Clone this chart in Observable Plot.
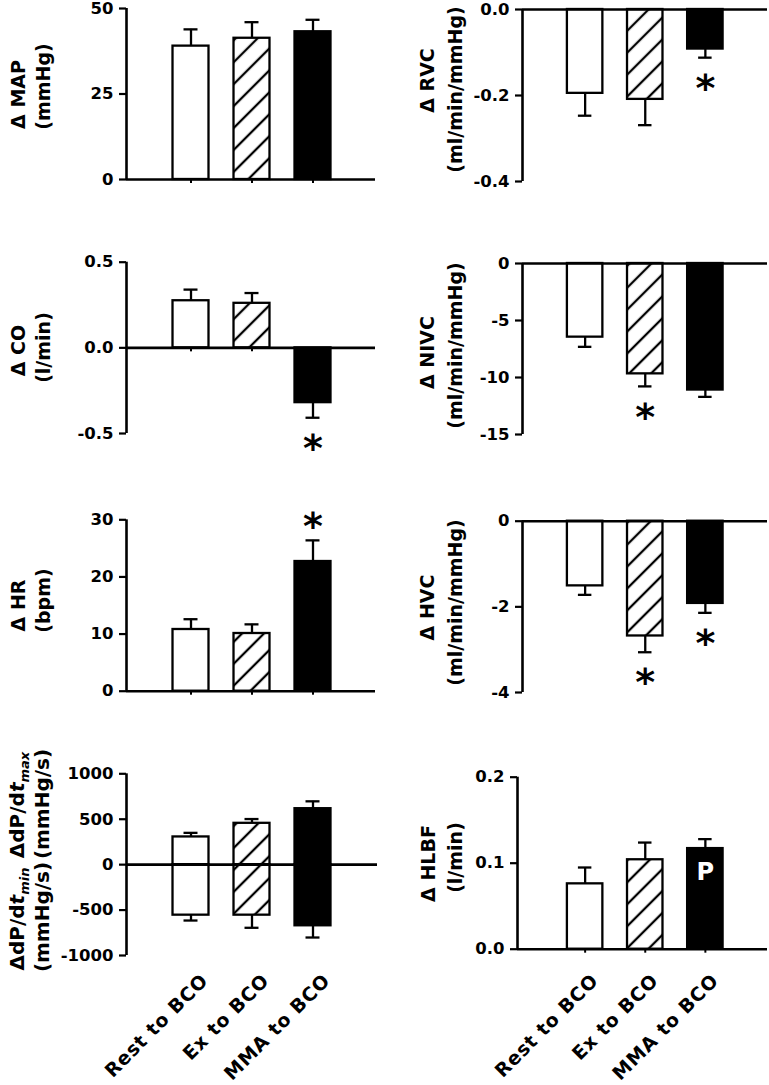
<!DOCTYPE html>
<html><head><meta charset="utf-8">
<script src="https://cdn.jsdelivr.net/npm/d3@7"></script>
<script src="https://cdn.jsdelivr.net/npm/@observablehq/plot@0.6"></script>
<style>
html,body{margin:0;padding:0;background:#fff;}
#root{position:relative;width:769px;height:1085px;overflow:hidden;background:#fff;}
.panel{position:absolute;}
.panel svg{overflow:visible;}
g[aria-label="y-axis tick"]{stroke-width:2.2px;}
</style></head><body>
<svg width="0" height="0" style="position:absolute">
<defs><pattern id="hatch" patternUnits="userSpaceOnUse" width="15.5" height="15.5" patternTransform="rotate(45)">
<rect width="15.5" height="15.5" fill="#fff"/><line x1="7.75" y1="-1" x2="7.75" y2="16.5" stroke="#000" stroke-width="2.3"/>
</pattern></defs></svg>
<div id="root"></div>
<script>
// ---------- data ----------
const groups = ["Rest to BCO", "Ex to BCO", "MMA to BCO"];
const groupFills = ["white", "url(#hatch)", "black"];

// Δ MAP (mmHg)
const mapMean = [39.0, 41.3, 43.2];
const mapSem  = [4.9, 4.7, 3.5];
const mapSig  = ["", "", ""];
const mapTicks = [0, 25, 50];

// Δ RVC (ml/min/mmHg)
const rvcMean = [-0.195, -0.209, -0.092];
const rvcSem  = [0.052, 0.060, 0.020];
const rvcSig  = ["", "", "*"];
const rvcTicks = [0, -0.2, -0.4];

// Δ CO (l/min)
const coMean = [0.275, 0.26, -0.32];
const coSem  = [0.065, 0.06, 0.088];
const coSig  = ["", "", "*"];
const coTicks = [0.5, 0, -0.5];

// Δ NIVC (ml/min/mmHg)
const nivcMean = [-6.46, -9.68, -11.1];
const nivcSem  = [0.85, 1.1, 0.6];
const nivcSig  = ["", "*", ""];
const nivcTicks = [0, -5, -10, -15];

// Δ HR (bpm)
const hrMean = [10.8, 10.1, 22.7];
const hrSem  = [1.8, 1.6, 3.7];
const hrSig  = ["", "", "*"];
const hrTicks = [0, 10, 20, 30];

// Δ HVC (ml/min/mmHg)
const hvcMean = [-1.51, -2.68, -1.92];
const hvcSem  = [0.21, 0.38, 0.22];
const hvcSig  = ["", "*", "*"];
const hvcTicks = [0, -2, -4];

// ΔdP/dt max and min (mmHg/s)
const dpMaxMean = [305, 455, 616];
const dpMaxSem  = [45, 47, 81];
const dpMinMean = [-556, -556, -673];
const dpMinSem  = [59, 139, 129];
const dpTicks = [1000, 500, 0, -500, -1000];

// Δ HLBF (l/min)
const hlbfMean = [0.076, 0.104, 0.117];
const hlbfSem  = [0.019, 0.020, 0.011];
const hlbfSig  = ["", "", "P"];
const hlbfTicks = [0, 0.1, 0.2];

// ---------- helpers ----------
function makeRows(mean, sem, sig) {
  return groups.map((g, i) => ({
    group: g, value: mean[i],
    end: mean[i] + (mean[i] < 0 ? -sem[i] : sem[i]),
    sig: sig ? sig[i] : "", fill: groupFills[i]
  }));
}
const fmtInt = d => String(d);
const fmt1 = d => d.toFixed(1);
const root = document.getElementById("root");
const FONT = "'DejaVu Sans', sans-serif";
const LABEL_SIZE = 19;

function panel(cfg) {
  const {colX, colW, rowTop, rowH, frame, band, domain, ticks, fmt, rows,
         labels = [], xLabels = false, tickBelow = false, xlDx = 13} = cfg;
  const marginLeft = frame[0] - colX, marginRight = colX + colW - frame[1];
  const marginTop = frame[2] - rowTop, marginBottom = rowTop + rowH - frame[3];
  const fw = frame[1] - frame[0];
  const bandLocal = [band[0] - colX, band[1] - colX];
  const frameMidY = (frame[2] + frame[3]) / 2;
  const marks = [];
  if (tickBelow) marks.push(Plot.ruleX(groups, {x: d => d, y1: 0, y2: 0, insetBottom: -4, stroke: "black", strokeWidth: 2}));
  marks.push(Plot.barY(rows, {x: "group", y: "value", fill: "fill", stroke: "black", strokeWidth: 2.3}));
  marks.push(Plot.ruleX(rows, {x: "group", y1: "value", y2: "end", stroke: "black", strokeWidth: 2.3}));
  marks.push(Plot.tickY(rows, {x: "group", y: "end", stroke: "black", strokeWidth: 2.3, insetLeft: 11, insetRight: 11}));
  marks.push(Plot.ruleY([0], {stroke: "black", strokeWidth: 2.6}));
  marks.push(Plot.ruleX([domain], {x: null, y1: d => d[0], y2: d => d[1], dx: -fw / 2, stroke: "black", strokeWidth: 2.6}));
  const stars = rows.filter(d => d.sig === "*");
  marks.push(Plot.text(stars.filter(d => d.value < 0), {x: "group", y: "end", text: "sig", fontSize: 38, fontWeight: "bold", dy: 31}));
  marks.push(Plot.text(stars.filter(d => d.value > 0), {x: "group", y: "end", text: "sig", fontSize: 38, fontWeight: "bold", dy: -14}));
  marks.push(Plot.text(rows.filter(d => d.sig === "P"), {x: "group", y: "value", text: "sig", fontSize: 24, fontWeight: "bold", fill: "white", dy: 24}));
  for (const L of labels) {
    marks.push(Plot.text([L.text], {text: d => d, frameAnchor: "left", rotate: -90, textAnchor: "middle", lineAnchor: "middle",
      fontSize: LABEL_SIZE, fontWeight: "bold", dx: L.x - frame[0], dy: L.y - frameMidY}));
  }
  if (xLabels) {
    marks.push(Plot.text(groups, {x: d => d, text: d => d, frameAnchor: "bottom", rotate: -45, textAnchor: "end", lineAnchor: "middle",
      fontSize: 19, fontWeight: "bold", dx: xlDx, dy: 977 - frame[3]}));
  }
  const plot = Plot.plot({
    width: colW, height: rowH, marginLeft, marginRight, marginTop, marginBottom,
    x: {type: "band", domain: groups, range: bandLocal, padding: 0.41, round: false, axis: null},
    y: {domain: [d3.min(domain), d3.max(domain)], ticks, tickFormat: fmt, tickSize: 7, tickPadding: 6, label: null},
    color: {type: "identity"},
    style: {fontFamily: FONT, fontSize: "16.5px", fontWeight: "bold", background: "transparent", overflow: "visible", color: "black"},
    marks
  });
  const div = document.createElement("div");
  div.className = "panel";
  div.style.left = colX + "px";
  div.style.top = rowTop + "px";
  div.append(plot);
  root.append(div);
  // widen the rotated category labels slightly
  d3.select(plot).selectAll("text")
    .filter(function () { return (this.getAttribute("transform") || "").includes("rotate(-45)"); })
    .style("letter-spacing", "0.8px");
  return plot;
}

const LEFT = {colX: 0, colW: 384, band: [147.5, 355.5]};
const RIGHT = {colX: 384, colW: 385, band: [542.25, 747.25]};

panel({...LEFT, rowTop: 0, rowH: 235, frame: [126, 375, 8, 179], domain: [0, 50], ticks: mapTicks, fmt: fmtInt,
  rows: makeRows(mapMean, mapSem, mapSig), tickBelow: true,
  labels: [{text: "Δ MAP", x: 18, y: 94}, {text: "(mmHg)", x: 43, y: 86}]});
panel({...RIGHT, rowTop: 0, rowH: 235, frame: [522, 767, 9, 181], domain: [-0.4, 0], ticks: rvcTicks, fmt: fmt1,
  rows: makeRows(rvcMean, rvcSem, rvcSig),
  labels: [{text: "Δ RVC", x: 427, y: 80}, {text: "(ml/min/mmHg)", x: 455, y: 89}]});
panel({...LEFT, rowTop: 235, rowH: 235, frame: [126, 375, 261.7, 433], domain: [-0.5, 0.5], ticks: coTicks, fmt: fmt1,
  rows: makeRows(coMean, coSem, coSig), tickBelow: true,
  labels: [{text: "Δ CO", x: 18, y: 350}, {text: "(l/min)", x: 43, y: 347}]});
panel({...RIGHT, rowTop: 235, rowH: 235, frame: [522, 767, 263, 434], domain: [-15, 0], ticks: nivcTicks, fmt: fmtInt,
  rows: makeRows(nivcMean, nivcSem, nivcSig),
  labels: [{text: "Δ NIVC", x: 427, y: 352}, {text: "(ml/min/mmHg)", x: 455, y: 345}]});
panel({...LEFT, rowTop: 470, rowH: 250, frame: [126, 375, 519.3, 690.7], domain: [0, 30], ticks: hrTicks, fmt: fmtInt,
  rows: makeRows(hrMean, hrSem, hrSig), tickBelow: true,
  labels: [{text: "Δ HR", x: 18, y: 605}, {text: "(bpm)", x: 43, y: 600}]});
panel({...RIGHT, rowTop: 470, rowH: 250, frame: [522, 767, 520.7, 692], domain: [-4, 0], ticks: hvcTicks, fmt: fmtInt,
  rows: makeRows(hvcMean, hvcSem, hvcSig),
  labels: [{text: "Δ HVC", x: 427, y: 607}, {text: "(ml/min/mmHg)", x: 455, y: 602}]});
const dpRows = makeRows(dpMaxMean, dpMaxSem, null).concat(makeRows(dpMinMean, dpMinSem, null));
const dpPlot = panel({...LEFT, rowTop: 720, rowH: 365, frame: [126, 377, 773.3, 955], domain: [-1000, 1000], ticks: dpTicks, fmt: fmtInt,
  rows: dpRows, xLabels: true, xlDx: 14});
panel({...RIGHT, rowTop: 720, rowH: 365, frame: [517, 767, 776.7, 948.7], domain: [0, 0.2], ticks: hlbfTicks, fmt: fmt1,
  rows: makeRows(hlbfMean, hlbfSem, hlbfSig), tickBelow: true, xLabels: true, xlDx: 10,
  labels: [{text: "Δ HLBF", x: 428, y: 863}, {text: "(l/min)", x: 455, y: 857}]});

// dP/dt axis label with italic t and subscripts
(function () {
  const svg = d3.select(dpPlot);
  function lab(x, y, sub) {
    const t = svg.append("text")
      .attr("transform", `translate(${x},${y - 720}) rotate(-90)`)
      .attr("text-anchor", "middle").attr("y", "0.32em")
      .attr("font-family", FONT).attr("font-weight", "bold").attr("font-size", 20);
    t.append("tspan").text("ΔdP/d");
    t.append("tspan").attr("font-style", "italic").text("t");
    t.append("tspan").attr("font-style", "italic").attr("font-size", 13).attr("dy", "0.35em").text(sub);
  }
  function plain(x, y, s) {
    svg.append("text")
      .attr("transform", `translate(${x},${y - 720}) rotate(-90)`)
      .attr("text-anchor", "middle").attr("y", "0.32em")
      .attr("font-family", FONT).attr("font-weight", "bold").attr("font-size", 20).text(s);
  }
  lab(18, 805, "max");
  lab(18, 919, "min");
  plain(43, 804, "(mmHg/s)");
  plain(43, 917, "(mmHg/s)");
})();
</script>
</body></html>
